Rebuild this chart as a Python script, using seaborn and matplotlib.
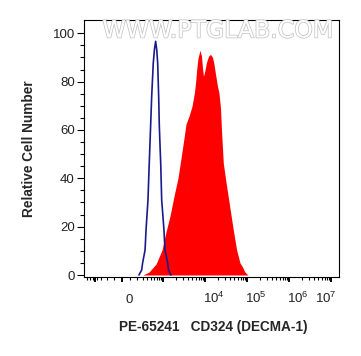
import numpy as np
import matplotlib
matplotlib.use("Agg")
import matplotlib.pyplot as plt
import matplotlib.patheffects as pe
from matplotlib.transforms import ScaledTranslation
import seaborn as sns

# isotype control histogram (blue outline)
ctrl_x = [226, 275, 293, 344, 366, 413, 447, 481, 516, 567, 609, 652, 695, 732, 775,
          802, 844, 869, 918, 1044, 1103, 1283, 1342, 1540]
ctrl_y = [0, 2.1, 5.0, 10.3, 18.6, 31.0, 46.3, 60.0, 73.6, 87.6, 93.5, 96.7, 93.0,
          87.6, 73.6, 62.0, 51.7, 46.3, 31.0, 18.6, 10.3, 5.0, 2.1, 0]

# CD324 stained histogram (red fill)
stain_x = [300, 439, 664, 934, 1168, 1459, 1819, 2268, 2677, 3155, 3521, 4153, 4896,
           5614, 6031, 6372, 6805, 7592, 8250, 8708, 9200, 9980, 10845, 12100, 13500,
           15070, 16360, 17760, 19830, 21520, 23360, 24680, 27250, 31600, 35850,
           41570, 47140, 56700, 68000, 75900, 89460, 105500]
stain_y = [0, 1.2, 4.5, 10.3, 17.8, 24.4, 32.6, 40.1, 48.3, 56.6, 62.4, 65.7, 69.8,
           75.6, 80.6, 85.5, 89.7, 93.0, 90.5, 85.5, 82.2, 84.7, 88.0, 90.5, 91.3,
           90.1, 87.2, 83.1, 78.1, 75.2, 69.0, 59.9, 46.3, 38.4, 32.2, 24.8, 18.6,
           10.3, 5.0, 3.7, 1.2, 0]

x_major = [-450, 0, 1e3, 1e4, 1e5, 1e6, 1e7]
x_labels = ["", "0", "", "$10^4$", "$10^5$", "$10^6$", "$10^7$"]
x_label_dx = [0, 7, 0, 9, 9, 9, -5]  # label nudges in px
y_ticks = [0, 20, 40, 60, 80, 100]

COF = 211.0


def fwd(x):
    return np.arcsinh(np.asarray(x, dtype=float) / COF)


def inv(u):
    return COF * np.sinh(u)


sns.set_style("ticks")
plt.rcParams["font.family"] = ["Liberation Sans", "DejaVu Sans"]
plt.rcParams["mathtext.fontset"] = "custom"
plt.rcParams["mathtext.rm"] = "Liberation Sans"
plt.rcParams["mathtext.it"] = "Liberation Sans:italic"
plt.rcParams["mathtext.bf"] = "Liberation Sans:bold"

fig = plt.figure(figsize=(3.61, 3.56), dpi=100)
ax = fig.add_axes([0.234, 0.2233, 0.7064, 0.7205])

ax.fill_between(stain_x, stain_y, 0, color="#ff0000", lw=0, zorder=2)
sns.lineplot(x=ctrl_x, y=ctrl_y, ax=ax, color="#1a1a8c", lw=1.2, sort=False,
             zorder=3)

ax.set_xscale("function", functions=(fwd, inv))
ax.set_xlim(-811, 1.59e7)
ax.set_ylim(-0.62, 105.5)

# x ticks
minor = list(range(-700, 0, 100)) + list(range(100, 1000, 100))
for d in [1e3, 1e4, 1e5, 1e6]:
    minor += [k * d for k in range(2, 10)]
ax.set_xticks(minor, minor=True)
ax.set_xticks(x_major)
ax.set_xticklabels(x_labels)
ax.tick_params(axis="x", which="major", length=3.6, width=1.4, pad=15.5,
               labelsize=9.5, labelcolor="#222222", color="black")
ax.tick_params(axis="x", which="minor", length=2.2, width=0.8, color="black")

# y ticks
ax.set_yticks(y_ticks)
ax.set_yticks(np.arange(0, 105, 5), minor=True)
ax.tick_params(axis="y", which="major", length=5, width=0.8, pad=2,
               labelsize=9.5, labelcolor="#222222", color="black")
ax.tick_params(axis="y", which="minor", length=3, width=0.8, color="black")

for lab, dx in zip(ax.get_xticklabels(), x_label_dx):
    lab.set_va("baseline")
    lab.set_transform(lab.get_transform()
                      + ScaledTranslation(dx / 100, 0, fig.dpi_scale_trans))

for s in ax.spines.values():
    s.set_visible(True)
    s.set_color("black")
    s.set_linewidth(0.8)

ax.set_ylabel("Relative Cell Number", fontweight="bold", fontsize=9.8)
ax.yaxis.set_label_coords(-0.19, 0.5)
ax.set_xlabel("PE-65241   CD324 (DECMA-1)", fontweight="bold", fontsize=9.8)
ax.xaxis.set_label_coords(0.504, -0.1715)

fig.text(218 / 361, 1 - 30.5 / 356, "WWW.PTGLAB.COM", ha="center", va="center",
         fontsize=17, family="DejaVu Sans", color="white",
         path_effects=[pe.withStroke(linewidth=1.1, foreground="#c4c4c4")])

fig.savefig("out.png", dpi=100)
